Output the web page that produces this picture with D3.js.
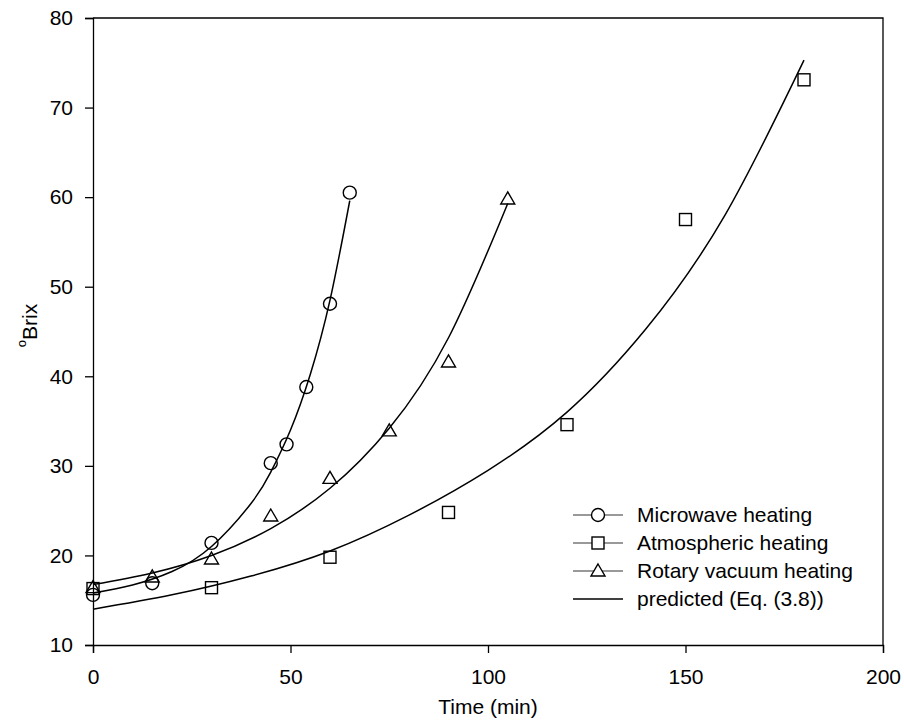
<!DOCTYPE html>
<html>
<head>
<meta charset="utf-8">
<script src="https://cdn.jsdelivr.net/npm/d3@7"></script>
<style>
  html, body { margin: 0; padding: 0; background: #fff; }
  text { font-family: "Liberation Sans", Arial, sans-serif; fill: #000; }
</style>
</head>
<body>
<svg id="chart" width="904" height="724"></svg>
<script>
// Measured °Brix during concentration (time in minutes)
const microwaveTime  = [0, 15, 30, 45, 49, 54, 60, 65];
const microwaveBrix  = [15.6, 16.9, 21.4, 30.3, 32.4, 38.8, 48.1, 60.5];
const atmosphericTime = [0, 30, 60, 90, 120, 150, 180];
const atmosphericBrix = [16.3, 16.4, 19.8, 24.8, 34.6, 57.5, 73.1];
const rotaryTime = [0, 15, 30, 45, 60, 75, 90, 105];
const rotaryBrix = [16.4, 17.6, 19.6, 24.4, 28.6, 33.9, 41.6, 59.8];

// Predicted curves (Eq. 3.8), sampled along each fitted line
const predMicrowaveTime = [0, 10, 20, 30, 40, 45, 50, 55, 60, 65];
const predMicrowaveBrix = [15.8, 16.7, 18.2, 21.0, 25.8, 29.3, 34.0, 40.2, 48.5, 59.6];
const predRotaryTime = [0, 15, 30, 45, 60, 75, 90, 105];
const predRotaryBrix = [16.75, 18.05, 20.0, 23.0, 27.5, 34.2, 44.3, 59.3];
const predAtmosphericTime = [0, 20, 40, 60, 80, 100, 120, 140, 160, 180];
const predAtmosphericBrix = [14.0, 15.6, 17.7, 20.5, 24.5, 29.5, 36.0, 45.3, 58.0, 75.3];

const xTicks = [0, 50, 100, 150, 200];
const yTicks = [10, 20, 30, 40, 50, 60, 70, 80];
const legendLabels = ["Microwave heating", "Atmospheric heating", "Rotary vacuum heating", "predicted (Eq. (3.8))"];

const svg = d3.select("#chart");
const plotLeft = 93, plotRight = 883, plotTop = 18, plotBottom = 645;

const x = d3.scaleLinear().domain([0, 200]).range([plotLeft, plotRight]);
const y = d3.scaleLinear().domain([10, 80]).range([plotBottom, plotTop]);

const zip = (ts, vs) => ts.map((t, i) => [t, vs[i]]);

// Frame: top and right edges
svg.append("path")
  .attr("d", `M${plotLeft},${plotTop}H${plotRight}V${plotBottom}`)
  .attr("fill", "none").attr("stroke", "#000").attr("stroke-width", 1.3);

// Axes
const xAxis = svg.append("g").attr("transform", `translate(0,${plotBottom})`)
  .call(d3.axisBottom(x).tickValues(xTicks).tickSize(8).tickPadding(16).tickFormat(d3.format("d")));
const yAxis = svg.append("g").attr("transform", `translate(${plotLeft},0)`)
  .call(d3.axisLeft(y).tickValues(yTicks).tickSize(8).tickPadding(12).tickFormat(d3.format("d")));
[xAxis, yAxis].forEach(g => {
  g.select(".domain").attr("stroke", "#000").attr("stroke-width", 1.3);
  g.selectAll(".tick line").attr("stroke", "#000").attr("stroke-width", 1.3);
  g.selectAll(".tick text").attr("font-size", 21).attr("font-family", "Liberation Sans, Arial, sans-serif").attr("fill", "#000");
});
xAxis.selectAll(".tick text").attr("dy", "0.71em");

// Axis titles
svg.append("text").attr("x", (plotLeft + plotRight) / 2).attr("y", 714)
  .attr("text-anchor", "middle").attr("font-size", 21).text("Time (min)");
const yTitle = svg.append("text")
  .attr("transform", `translate(36,${(plotTop + plotBottom) / 2 - 6}) rotate(-90)`)
  .attr("text-anchor", "middle").attr("font-size", 21);
yTitle.append("tspan").attr("font-size", 13).attr("dy", "-0.75em").text("o");
yTitle.append("tspan").attr("dy", "0.5em").text("Brix");

// Predicted lines
const line = d3.line().x(d => x(d[0])).y(d => y(d[1])).curve(d3.curveNatural);
const predicted = [
  zip(predMicrowaveTime, predMicrowaveBrix),
  zip(predRotaryTime, predRotaryBrix),
  zip(predAtmosphericTime, predAtmosphericBrix)
];
svg.append("g").selectAll("path").data(predicted).join("path")
  .attr("d", line).attr("fill", "none").attr("stroke", "#000").attr("stroke-width", 1.5);

// Marker shapes
const markerStyle = sel => sel.attr("fill", "none").attr("stroke", "#000").attr("stroke-width", 1.4);
function drawMarker(g, kind, cx, cy) {
  if (kind === "circle") {
    markerStyle(g.append("circle").attr("cx", cx).attr("cy", cy).attr("r", 6.5));
  } else if (kind === "square") {
    markerStyle(g.append("rect").attr("x", cx - 6).attr("y", cy - 6).attr("width", 12).attr("height", 12));
  } else {
    markerStyle(g.append("path").attr("d", `M${cx},${cy - 7}L${cx + 7},${cy + 5}L${cx - 7},${cy + 5}Z`));
  }
}

const series = [
  { kind: "circle", pts: zip(microwaveTime, microwaveBrix) },
  { kind: "square", pts: zip(atmosphericTime, atmosphericBrix) },
  { kind: "triangle", pts: zip(rotaryTime, rotaryBrix) }
];
const marks = svg.append("g");
series.forEach(s => s.pts.forEach(p => drawMarker(marks, s.kind, x(p[0]), y(p[1]))));

// Legend
const legend = svg.append("g");
const kinds = ["circle", "square", "triangle", null];
legendLabels.forEach((label, i) => {
  const ly = 515 + i * 28;
  legend.append("line").attr("x1", 573).attr("x2", 623).attr("y1", ly).attr("y2", ly)
    .attr("stroke", kinds[i] ? "#777" : "#000").attr("stroke-width", 1.3);
  if (kinds[i]) {
    const g = legend.append("g");
    drawMarker(g, kinds[i], 598, ly);
    g.selectAll("*").attr("fill", "#fff");
  }
  legend.append("text").attr("x", 637).attr("y", ly + 7).attr("font-size", 21).text(label);
});
</script>
</body>
</html>
